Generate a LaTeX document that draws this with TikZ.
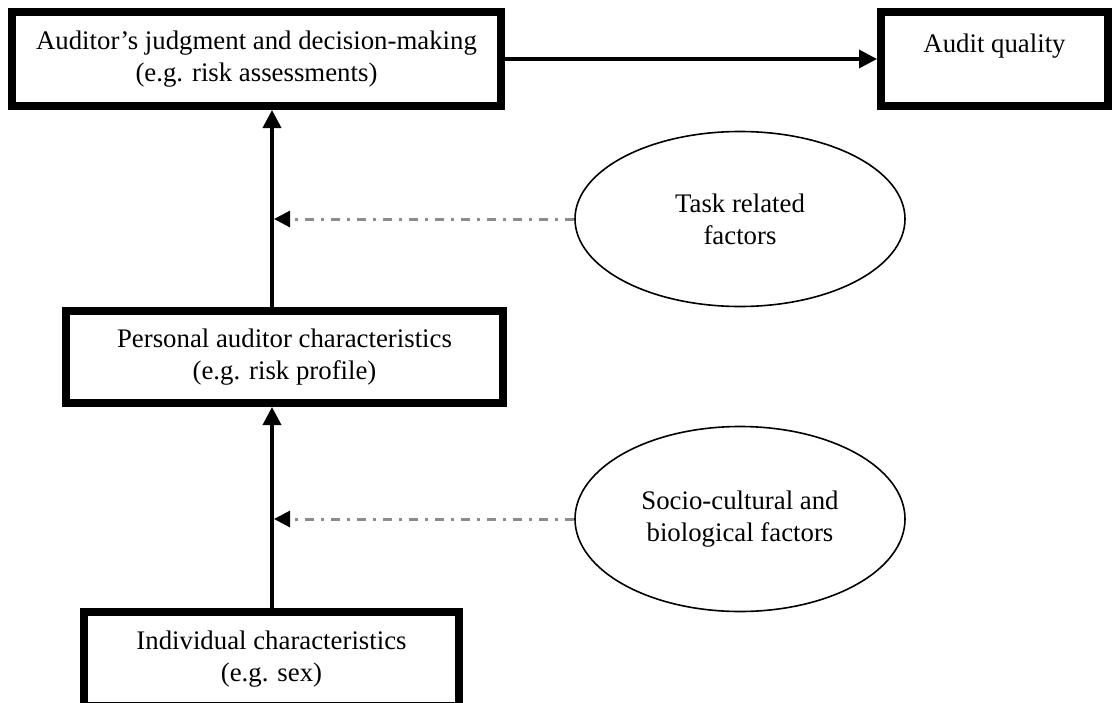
\documentclass[tikz,border=0pt]{standalone}
\usepackage{fontspec}
\setmainfont{Liberation Serif}
\usepackage{tikz}
\usetikzlibrary{arrows.meta,calc,positioning}
\usetikzlibrary{shapes.geometric}

\begin{document}
\begin{tikzpicture}[
    x=0.5pt, y=-0.5pt,
    font=\fontsize{13.4pt}{16pt}\selectfont,
    nosep/.style={inner sep=0},
    factorbox/.style={draw, line width=4pt, rectangle, align=center, nosep},
    factorell/.style={draw, line width=0.8pt, ellipse, align=center, nosep,
        minimum width=165pt},
    link/.style={line width=1.8pt, -{Triangle[length=9pt,width=9pt]}},
    moderator/.style={line width=1.5pt, gray!90,
        dash pattern=on 4.5pt off 3.5pt on 1.5pt off 3.5pt,
        -{Triangle[length=8pt,width=8pt,black]}}]
\useasboundingbox (0,0) rectangle (1113,702);

\node (judgment) [factorbox, minimum width=244.5pt, minimum height=47pt] at (256.5,59)
    {Auditor’s judgment and decision-making\\(e.g. risk assessments)};
\node (quality)  [factorbox, minimum width=113.5pt, minimum height=47pt] at (994.5,59)
    {Audit quality\\\mbox{}};
\node (personal) [factorbox, minimum width=218.5pt, minimum height=46pt] at (284.5,357)
    {Personal auditor characteristics\\(e.g. risk profile)};
\node (individual) [factorbox, minimum width=187.5pt, minimum height=47pt] at (271.5,659)
    {Individual characteristics\\(e.g. sex)};

\node (task)  [factorell, minimum height=87.5pt] at (740,219) {Task related\\factors};
\node (socio) [factorell, minimum height=92.5pt] at (740,519) {Socio-cultural and\\biological factors};

% spine of the causal chain
\coordinate (spine) at (272,0);
\coordinate (tiptask)  at (274,219);
\coordinate (tipsocio) at (274,519);

\draw[link] (judgment.east) -- (quality.west);
\draw[link] (personal.north -| spine) -- (judgment.south -| spine);
\draw[link] (individual.north -| spine) -- (personal.south -| spine);

\draw[moderator] (task.west) -- (tiptask);
\draw[moderator] (socio.west) -- (tipsocio);

\end{tikzpicture}
\end{document}
